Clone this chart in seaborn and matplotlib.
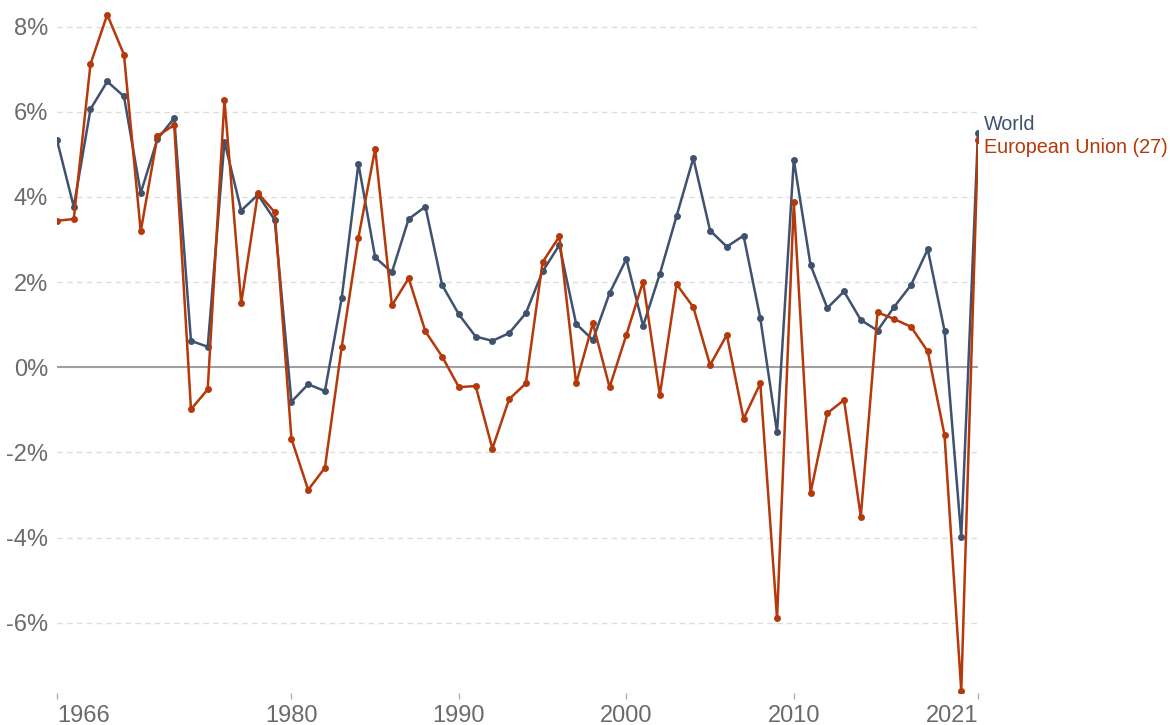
import pandas as pd
import seaborn as sns
import matplotlib.pyplot as plt

# Date (crestere anuala, %)
years = list(range(1966, 2022))
world = [5.33, 3.77, 6.06, 6.71, 6.36, 4.09, 5.36, 5.85, 0.62, 0.48,
         5.30, 3.68, 4.05, 3.46, -0.81, -0.40, -0.56, 1.62, 4.78, 2.58,
         2.23, 3.48, 3.77, 1.93, 1.24, 0.72, 0.62, 0.80, 1.27, 2.25,
         2.87, 1.02, 0.64, 1.74, 2.54, 0.97, 2.19, 3.55, 4.91, 3.21,
         2.83, 3.09, 1.15, -1.53, 4.87, 2.40, 1.39, 1.78, 1.11, 0.86,
         1.42, 1.93, 2.77, 0.86, -3.99, 5.51]
eu = [3.44, 3.48, 7.12, 8.28, 7.34, 3.19, 5.43, 5.69, -0.99, -0.52,
      6.28, 1.50, 4.09, 3.64, -1.68, -2.88, -2.36, 0.47, 3.04, 5.13,
      1.45, 2.09, 0.84, 0.25, -0.47, -0.44, -1.91, -0.75, -0.38, 2.47,
      3.07, -0.38, 1.03, -0.47, 0.76, 2.01, -0.65, 1.95, 1.41, 0.05,
      0.76, -1.21, -0.38, -5.90, 3.87, -2.95, -1.08, -0.77, -3.51, 1.29,
      1.13, 0.95, 0.37, -1.59, -7.60, 5.34]
series_names = ['World', 'European Union (27)']
colors = {'World': '#3f526e', 'European Union (27)': '#b5390a'}
yticks = [-6, -4, -2, 0, 2, 4, 6, 8]
xticks = [1966, 1980, 1990, 2000, 2010, 2021]

df = pd.DataFrame({
    'year': years * 2,
    'value': world + eu,
    'series': [series_names[0]] * len(years) + [series_names[1]] * len(years),
})

sns.set_style('white')
plt.rcParams['font.family'] = ['Liberation Sans', 'DejaVu Sans']

fig = plt.figure(figsize=(11.7, 7.25), dpi=100)
ax = fig.add_axes([57 / 1170, 32 / 725, 921 / 1170, 692 / 725])

# grila orizontala
for v in yticks:
    if v == 0:
        ax.axhline(0, color='#a0a0a0', lw=1.5, zorder=1)
    else:
        ax.axhline(v, color='#dddddd', lw=1, ls=(0, (4, 3)), zorder=0)

sns.lineplot(data=df, x='year', y='value', hue='series', palette=colors,
             marker='o', markersize=5, markeredgewidth=0, linewidth=1.8,
             legend=False, ax=ax, zorder=3)

ax.set_xlim(1966, 2021)
ax.set_ylim(-7.65, 8.6)
ax.set_yticks(yticks)
ax.set_yticklabels([f'{v}%' for v in yticks])
ax.set_xticks(xticks)
ax.set_xticklabels([str(x) for x in xticks])
labels = ax.get_xticklabels()
labels[0].set_horizontalalignment('left')
labels[-1].set_horizontalalignment('right')

ax.tick_params(axis='y', left=False, length=0, pad=6.5, labelsize=17,
               labelcolor='#6b6b6b')
ax.tick_params(axis='x', bottom=True, length=4.3, width=1, color='#b0b0b0',
               pad=4, labelsize=17, labelcolor='#6b6b6b', direction='out')
ax.set_xlabel('')
ax.set_ylabel('')
for s in ax.spines.values():
    s.set_visible(False)

# etichete la capatul liniilor
ax.annotate('World', xy=(years[-1], world[-1]), xytext=(6, 8),
            textcoords='offset pixels', va='center', ha='left',
            fontsize=14.2, color=colors['World'], annotation_clip=False)
ax.annotate('European Union (27)', xy=(years[-1], eu[-1]), xytext=(6, -8),
            textcoords='offset pixels', va='center', ha='left',
            fontsize=14.2, color=colors['European Union (27)'],
            annotation_clip=False)

fig.savefig('out.png', dpi=100)
